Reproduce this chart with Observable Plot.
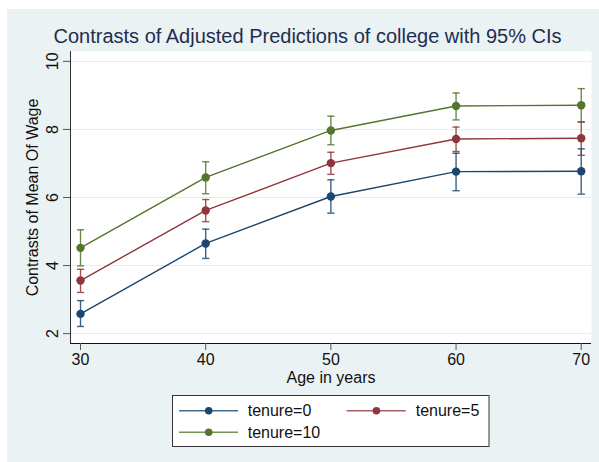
<!DOCTYPE html>
<html>
<head>
<meta charset="utf-8">
<script src="https://cdn.jsdelivr.net/npm/d3@7"></script>
<script src="https://cdn.jsdelivr.net/npm/@observablehq/plot@0.6"></script>
<style>
  html, body { margin: 0; padding: 0; background: #ffffff; }
  #wrap { position: absolute; left: 7px; top: 9px; width: 592px; height: 453px; background: #eaf2f3; }
</style>
</head>
<body>
<div id="wrap"></div>
<script>
// ---- data ----
const ages = [30, 40, 50, 60, 70];
const seriesNames = ["tenure=0", "tenure=5", "tenure=10"];
const seriesColors = ["#1a476f", "#90353b", "#55752f"];
const tenure0 = [2.58, 4.65, 6.03, 6.76, 6.77];
const tenure0Lo = [2.21, 4.21, 5.54, 6.20, 6.10];
const tenure0Hi = [2.97, 5.07, 6.52, 7.30, 7.43];
const tenure5 = [3.56, 5.62, 7.01, 7.72, 7.74];
const tenure5Lo = [3.21, 5.29, 6.68, 7.35, 7.24];
const tenure5Hi = [3.89, 5.94, 7.33, 8.07, 8.22];
const tenure10 = [4.52, 6.59, 7.97, 8.69, 8.71];
const tenure10Lo = [3.99, 6.11, 7.55, 8.28, 8.22];
const tenure10Hi = [5.05, 7.05, 8.39, 9.07, 9.20];
const xTicks = [30, 40, 50, 60, 70];
const yTicks = [2, 4, 6, 8, 10];
const titleText = "Contrasts of Adjusted Predictions of college with 95% CIs";
const xLabel = "Age in years";
const yLabel = "Contrasts of Mean Of Wage";

const values = [tenure0, tenure5, tenure10];
const los = [tenure0Lo, tenure5Lo, tenure10Lo];
const his = [tenure0Hi, tenure5Hi, tenure10Hi];
const rows = [];
seriesNames.forEach((s, i) => ages.forEach((a, j) => rows.push({series: s, age: a, value: values[i][j], lo: los[i][j], hi: his[i][j]})));

const xDomain = [29.2, 70.82];
const yDomain = [1.71, 10.29];

const capSymbol = {
  draw(ctx, size) { const r = Math.sqrt(size / Math.PI); ctx.moveTo(-r, 0); ctx.lineTo(r, 0); }
};

const font = "'Liberation Sans', Arial, Helvetica, sans-serif";

const chart = Plot.plot({
  width: 592,
  height: 453,
  marginLeft: 63,
  marginRight: 8,
  marginTop: 42,
  marginBottom: 119,
  style: {background: "transparent", fontFamily: font, fontSize: "16px", color: "#111"},
  x: {domain: xDomain},
  y: {domain: yDomain},
  color: {domain: seriesNames, range: seriesColors},
  marks: [
    Plot.frame({fill: "white", stroke: "none"}),
    Plot.gridY(yTicks, {stroke: "#e3ebed", strokeOpacity: 1}),
    Plot.ruleX([xDomain[0]], {stroke: "#333"}),
    Plot.ruleY([yDomain[0]], {stroke: "#111"}),
    Plot.axisX(xTicks, {tickSize: 7, tickPadding: 3, label: null, fontSize: 16, stroke: "#555"}),
    Plot.axisY(yTicks, {tickSize: 7, tickFormat: () => "", label: null, stroke: "#555"}),
    Plot.text(yTicks, {y: d => d, text: d => String(d), frameAnchor: "left", dx: -17.5, rotate: -90, lineAnchor: "middle", textAnchor: "middle", fontSize: 16, fill: "#111"}),
    Plot.text([yLabel], {frameAnchor: "left", dx: -37.3, rotate: -90, lineAnchor: "middle", textAnchor: "middle", fontSize: 16, fill: "#111"}),
    Plot.text([xLabel], {frameAnchor: "bottom", dy: 39, lineAnchor: "bottom", fontSize: 16, fill: "#111"}),
    Plot.text([titleText], {frameAnchor: "top", dx: -23.5, dy: -8.3, lineAnchor: "bottom", fontSize: 20, fill: "#1f2d50"}),
    Plot.line(rows, {x: "age", y: "value", z: "series", stroke: "series", strokeWidth: 1.4}),
    Plot.ruleX(rows, {x: "age", y1: "lo", y2: "hi", stroke: "series", strokeWidth: 1.4, strokeOpacity: 0.85}),
    Plot.dot(rows, {x: "age", y: "lo", symbol: capSymbol, r: 3.6, stroke: "series", fill: "none", strokeWidth: 1.4, strokeOpacity: 0.85}),
    Plot.dot(rows, {x: "age", y: "hi", symbol: capSymbol, r: 3.6, stroke: "series", fill: "none", strokeWidth: 1.4, strokeOpacity: 0.85}),
    Plot.dot(rows, {x: "age", y: "value", fill: "series", stroke: "none", r: 4.2})
  ]
});
document.getElementById("wrap").appendChild(chart);

// ---- legend (below the plot area, inside the same SVG) ----
const svg = d3.select(chart);
const lg = svg.append("g").attr("font-family", font).attr("font-size", 16).attr("fill", "#111").attr("text-anchor", "start");
lg.append("rect").attr("x", 165.5).attr("y", 386.5).attr("width", 316.5).attr("height", 51)
  .attr("fill", "white").attr("stroke", "#333").attr("stroke-width", 1);
const slots = [
  {lx: 172, cy: 401.7, tx: 240.7},
  {lx: 339.7, cy: 401.7, tx: 408.7},
  {lx: 172, cy: 423.3, tx: 240.7}
];
seriesNames.forEach((s, i) => {
  const p = slots[i];
  const g = lg.append("g");
  g.append("line").attr("x1", p.lx).attr("x2", p.lx + 59).attr("y1", p.cy).attr("y2", p.cy)
    .attr("stroke", seriesColors[i]).attr("stroke-width", 1.4).attr("stroke-opacity", 0.8);
  g.append("circle").attr("cx", p.lx + 29.7).attr("cy", p.cy).attr("r", 3.8).attr("fill", seriesColors[i]);
  g.append("text").attr("x", p.tx).attr("y", p.cy + 5.2).attr("text-anchor", "start").text(s);
});
</script>
</body>
</html>
